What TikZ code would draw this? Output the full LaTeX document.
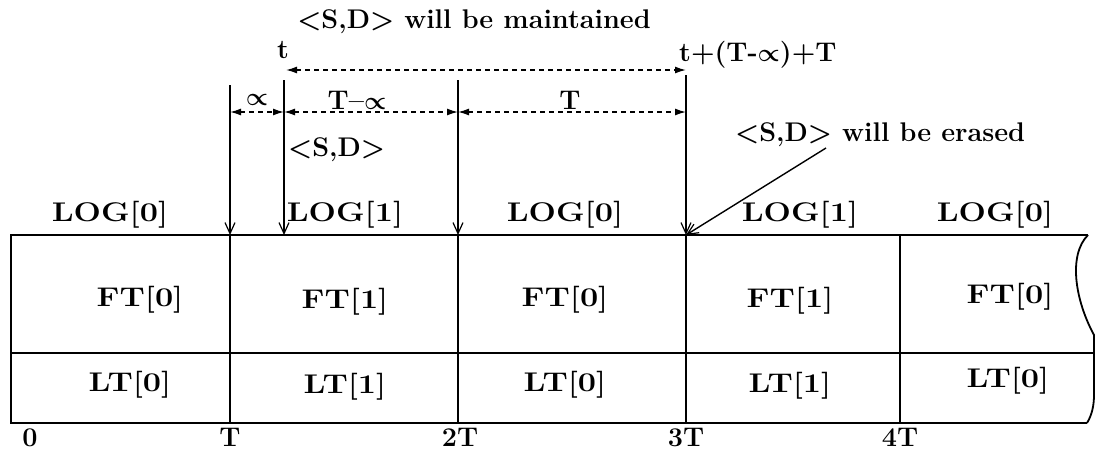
\documentclass[tikz,border=0pt]{standalone}
\usepackage{bm}
\usepackage{graphicx}
\usetikzlibrary{arrows.meta}
\newcommand{\wtxt}[1]{\scalebox{1.2}[1]{#1}}
\begin{document}
\begin{tikzpicture}[x=1pt,y=-1pt,
  lbl/.style={font=\fontsize{27}{30}\selectfont\bfseries, inner sep=0pt},
  box/.style={line width=1.8pt},
  vline/.style={line width=1.4pt, -{Straight Barb[length=11pt,width=10pt,line width=1.2pt]}},
  darr/.style={line width=1.4pt, dash pattern=on 5pt off 4pt, {Latex[length=11pt,width=7pt]}-{Latex[length=11pt,width=7pt]}}]
\useasboundingbox (0,0) rectangle (1095,450);
% texts on top
\node[lbl] (maint) at (474,22) {\textless S,D\textgreater{} will be maintained};
\node[lbl] (tlab) at (283,50) {t};
\node[lbl, anchor=west] (tend) at (679,55) {t+(T-$\bm{\propto}$)+T};
\node[lbl] (alab) at (257,100) {$\bm{\propto}$};
\node[lbl] (tmalab) at (357,100) {T--$\bm{\propto}$};
\node[lbl] (tlab2) at (570,100) {T};
\node[lbl, anchor=west] (sd) at (288,150) {\textless S,D\textgreater};
\node[lbl, anchor=west] (erase) at (735,135) {\textless S,D\textgreater{} will be erased};
% coordinates
\coordinate (a1) at (230,85);  \coordinate (b1) at (230,235);
\coordinate (a2) at (284,80);  \coordinate (b2) at (284,235);
\coordinate (a3) at (458,80);  \coordinate (b3) at (458,235);
\coordinate (a4) at (686,75);  \coordinate (b4) at (686,235);
\coordinate (d1) at (230,112); \coordinate (d2) at (284,112);
\coordinate (d3) at (458,112); \coordinate (d4) at (686,112);
\coordinate (m1) at (286,70);  \coordinate (m2) at (686,70);
\coordinate (e1) at (826,148);
% vertical arrows
\draw[vline] (a1) -- (b1);
\draw[vline] (a2) -- (b2);
\draw[vline] (a3) -- (b3);
\draw[vline] (a4) -- (b4);
\draw[vline] (e1) -- (b4);
% dashed arrows
\draw[darr] (m1) -- (m2);
\draw[darr] (d1) -- (d2);
\draw[darr] (d2) -- (d3);
\draw[darr] (d3) -- (d4);
% box
\coordinate (tl) at (11,235); \coordinate (bl) at (11,423);
\coordinate (tr) at (1088,235); \coordinate (br) at (1087,423);
\coordinate (ml) at (11,353); \coordinate (mr) at (1095,353);
\draw[box] (tr) -- (tl) -- (bl) -- (br);
\draw[box] (ml) -- (mr);
\draw[box] (tr) .. controls (1068,255) and (1075,300) .. (1094,335) -- (1094,395) .. controls (1094,405) and (1092,415) .. (br);
\foreach \x in {230,458,686,900} \draw[box] (\x,235) -- (\x,423);
% LOG labels
\node[lbl] (log1) at (110,215) {\wtxt{LOG[0]}};
\node[lbl] (log2) at (345,215) {\wtxt{LOG[1]}};
\node[lbl] (log3) at (565,215) {\wtxt{LOG[0]}};
\node[lbl] (log4) at (800,215) {\wtxt{LOG[1]}};
\node[lbl] (log5) at (995,215) {\wtxt{LOG[0]}};
% FT labels
\node[lbl] (ft1) at (140,300) {\wtxt{FT[0]}};
\node[lbl] (ft2) at (345,302) {\wtxt{FT[1]}};
\node[lbl] (ft3) at (565,300) {\wtxt{FT[0]}};
\node[lbl] (ft4) at (790,301) {\wtxt{FT[1]}};
\node[lbl] (ft5) at (1010,297) {\wtxt{FT[0]}};
% LT labels
\node[lbl] (lt1) at (130,385) {\wtxt{LT[0]}};
\node[lbl] (lt2) at (345,387) {\wtxt{LT[1]}};
\node[lbl] (lt3) at (565,385) {\wtxt{LT[0]}};
\node[lbl] (lt4) at (790,386) {\wtxt{LT[1]}};
\node[lbl] (lt5) at (1008,381) {\wtxt{LT[0]}};
% axis labels
\node[lbl, anchor=base] (x0) at (30,446) {0};
\node[lbl, anchor=base] (x1) at (230,446) {T};
\node[lbl, anchor=base] (x2) at (460,446) {2T};
\node[lbl, anchor=base] (x3) at (686,446) {3T};
\node[lbl, anchor=base] (x4) at (900,446) {4T};
\end{tikzpicture}
\end{document}
